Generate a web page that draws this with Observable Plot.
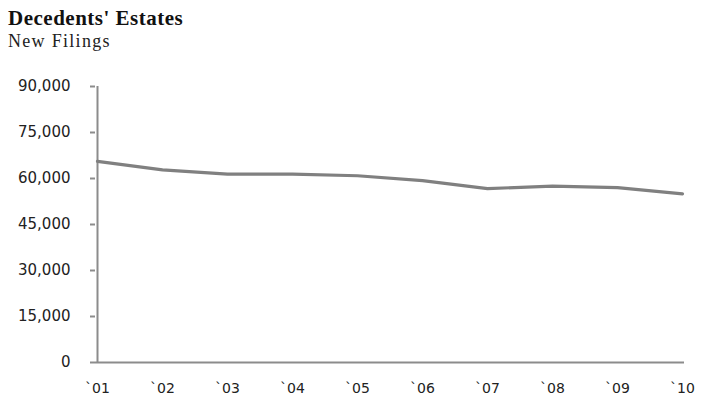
<!DOCTYPE html>
<html>
<head>
<meta charset="utf-8">
<script src="https://cdn.jsdelivr.net/npm/d3@7"></script>
<script src="https://cdn.jsdelivr.net/npm/@observablehq/plot@0.6"></script>
<style>
  html, body { margin: 0; padding: 0; background: #fff; }
  #wrap { position: relative; width: 707px; height: 399px; overflow: hidden; }
  #title { position: absolute; left: 8px; top: 6px; line-height: 24px; font-family: "Liberation Serif", serif; font-weight: bold; font-size: 21px; color: #111; letter-spacing: 0.5px; }
  #subtitle { position: absolute; left: 8px; top: 31px; line-height: 20px; font-family: "Liberation Serif", serif; font-size: 18px; color: #222; letter-spacing: 1.3px; }
  #chart { position: absolute; left: 0; top: 62px; }
</style>
</head>
<body>
<div id="wrap">
  <div id="title">Decedents' Estates</div>
  <div id="subtitle">New Filings</div>
  <div id="chart"></div>
</div>
<script>
// New decedents' estate filings per year
const years = ["`01", "`02", "`03", "`04", "`05", "`06", "`07", "`08", "`09", "`10"];
const filings = [65600, 62800, 61400, 61400, 60900, 59300, 56700, 57500, 57000, 55000];
const yTicks = [0, 15000, 30000, 45000, 60000, 75000, 90000];

const rows = years.map((year, i) => ({year, filings: filings[i]}));
const axisGray = "#8c8c8c";

const chart = Plot.plot({
  width: 707,
  height: 337,
  marginLeft: 95,
  marginRight: 23,
  marginTop: 24,
  marginBottom: 37,
  style: {fontFamily: "DejaVu Sans, sans-serif", fontSize: "15px", color: "#222", background: "#fff"},
  x: {type: "point", domain: years, padding: 0},
  y: {domain: [0, 90000]},
  marks: [
    Plot.axisY({ticks: yTicks, tickFormat: d3.format(","), tickSize: 5, tickPadding: 20, stroke: axisGray, strokeWidth: 2, label: null, letterSpacing: 1.4}),
    Plot.axisX({tickSize: 0, tickPadding: 21, fontSize: 14, label: null, letterSpacing: 2}),
    Plot.ruleX([years[0]], {y1: 0, y2: 90000, stroke: axisGray, strokeWidth: 2}),
    Plot.ruleY([0], {stroke: axisGray, strokeWidth: 2}),
    Plot.line(rows, {x: "year", y: "filings", stroke: "#808080", strokeWidth: 3.2})
  ]
});
document.getElementById("chart").appendChild(chart);
</script>
</body>
</html>
